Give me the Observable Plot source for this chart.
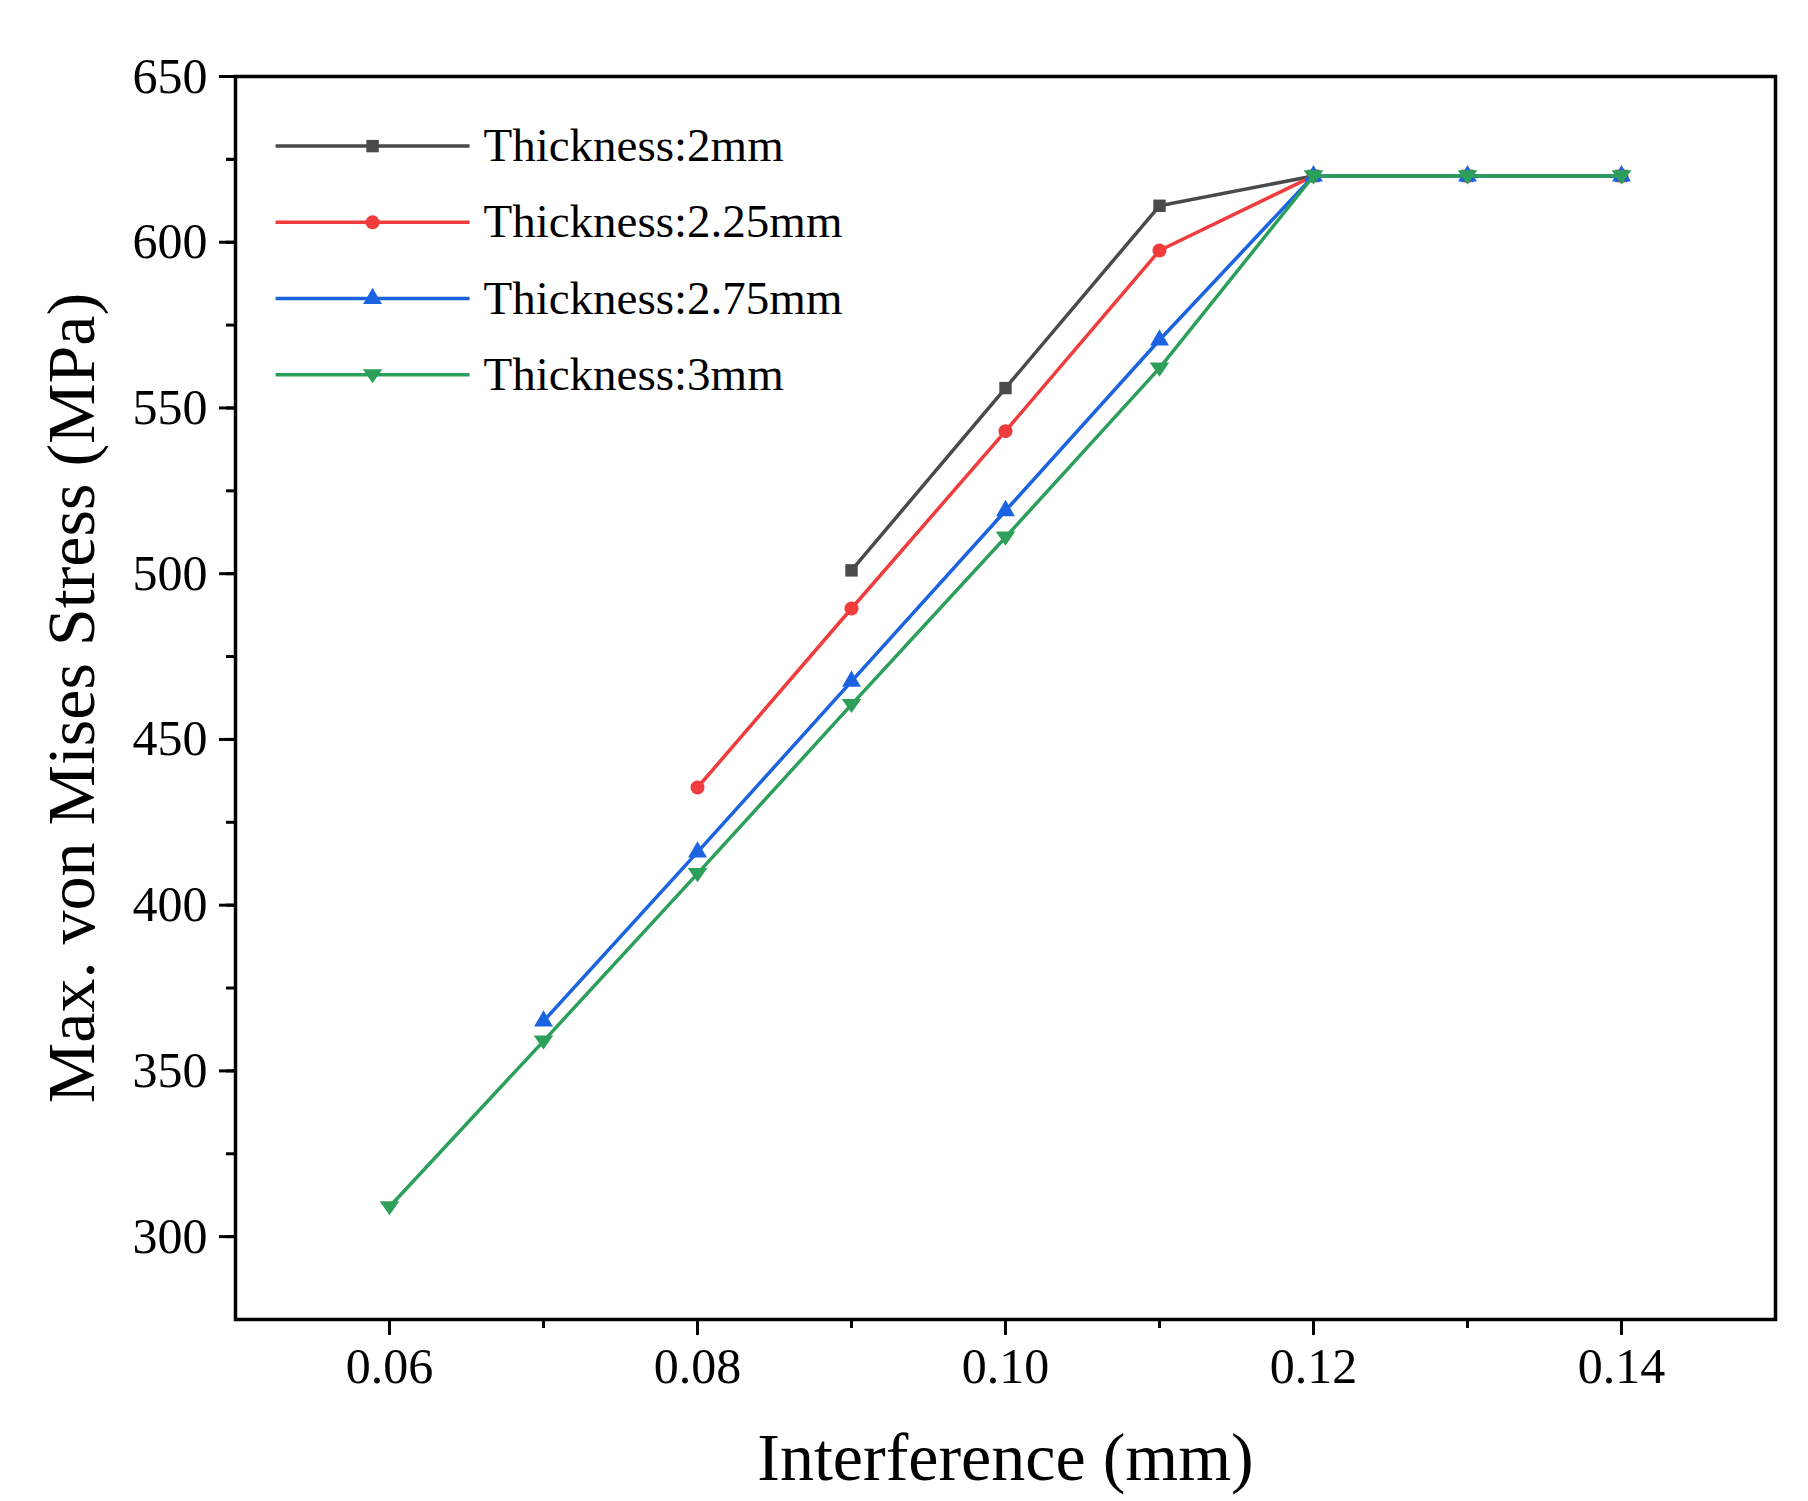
<!DOCTYPE html>
<html><head><meta charset="utf-8">
<script src="https://cdn.jsdelivr.net/npm/d3@7"></script>
<script src="https://cdn.jsdelivr.net/npm/@observablehq/plot@0.6"></script>
<style>body{margin:0;background:#fff}</style>
</head><body><div id="chart"></div>
<script>
const seriesNames = ["Thickness:2mm","Thickness:2.25mm","Thickness:2.75mm","Thickness:3mm"];
const colors = ["#4a4a4a","#f03c3c","#1b63e0","#2ca05a"];
const xs2 = [0.09,0.10,0.11,0.12,0.13,0.14];
const ys2 = [501,556,611,620,620,620];
const xs225 = [0.08,0.09,0.10,0.11,0.12,0.13,0.14];
const ys225 = [435.5,489.5,543,597.5,620,620,620];
const xs275 = [0.07,0.08,0.09,0.10,0.11,0.12,0.13,0.14];
const ys275 = [365,416,467.5,519,570.5,620,620,620];
const xs3 = [0.06,0.07,0.08,0.09,0.10,0.11,0.12,0.13,0.14];
const ys3 = [309,359,409.5,460.5,511,562,620,620,620];
const legendY = [629,606,583,560];

const triDown = {draw(ctx, size){const r=Math.sqrt(size/(Math.sqrt(3)*0.75));const h=r*Math.sqrt(3)/2;ctx.moveTo(0,h*0.9);ctx.lineTo(r*0.9,-h*0.6);ctx.lineTo(-r*0.9,-h*0.6);ctx.closePath();}};
const symbols = ["square","circle","triangle",triDown];

const all = [[xs2,ys2],[xs225,ys225],[xs275,ys275],[xs3,ys3]];
const data = [];
all.forEach(([xs,ys],i)=>xs.forEach((x,j)=>data.push({s:i,x,y:ys[j]})));
const legend = seriesNames.map((n,i)=>({s:i,n,y:legendY[i]}));

const marks = [];
for (let i=0;i<4;i++){
  const d = data.filter(e=>e.s===i);
  marks.push(Plot.line(d,{x:"x",y:"y",stroke:colors[i],strokeWidth:3.5}));
  marks.push(Plot.dot(d,{x:"x",y:"y",fill:colors[i],stroke:"none",symbol:()=>symbols[i],r:7}));
}
for (let i=0;i<4;i++){
  const l=[legend[i]];
  marks.push(Plot.link(l,{x1:()=>0.0526,x2:()=>0.0652,y1:"y",y2:"y",stroke:colors[i],strokeWidth:3.5}));
  marks.push(Plot.dot(l,{x:()=>0.0589,y:"y",fill:colors[i],stroke:"none",symbol:()=>symbols[i],r:7}));
  marks.push(Plot.text(l,{x:()=>0.0661,y:"y",text:"n",textAnchor:"start",fontSize:47,fill:"#000"}));
}

const plot = Plot.plot({
  width:1808, height:1501,
  marginLeft:235, marginRight:33, marginTop:76, marginBottom:182,
  style:{fontFamily:"'Liberation Serif','DejaVu Serif',serif",fontSize:"50px",color:"#000",background:"#fff"},
  x:{domain:[0.05,0.15]},
  y:{domain:[275,650]},
  marks:[
    Plot.axisX({ticks:d3.range(0.06,0.1401,0.01),tickSize:9,tickFormat:()=>"",label:null,strokeWidth:3}),
    Plot.axisX({ticks:[0.06,0.08,0.10,0.12,0.14],tickSize:16,tickFormat:d3.format(".2f"),tickPadding:12,fontSize:50,strokeWidth:3,label:"Interference (mm)",labelAnchor:"center",labelArrow:"none",labelOffset:160}),
    Plot.axisY({ticks:d3.range(300,650,25).concat([625]),tickSize:9,tickFormat:()=>"",label:null,strokeWidth:3}),
    Plot.axisY({ticks:d3.range(300,651,50),tickSize:16,tickPadding:12,fontSize:50,strokeWidth:3,label:"Max. von Mises Stress (MPa)",labelAnchor:"center",labelArrow:"none",labelOffset:190}),
    Plot.frame({stroke:"#000",strokeWidth:3.5}),
    ...marks
  ]
});
plot.querySelectorAll("[aria-label='x-axis label'] text, [aria-label='y-axis label'] text").forEach(t=>t.setAttribute("font-size","68"));
document.getElementById("chart").appendChild(plot);
</script></body></html>
